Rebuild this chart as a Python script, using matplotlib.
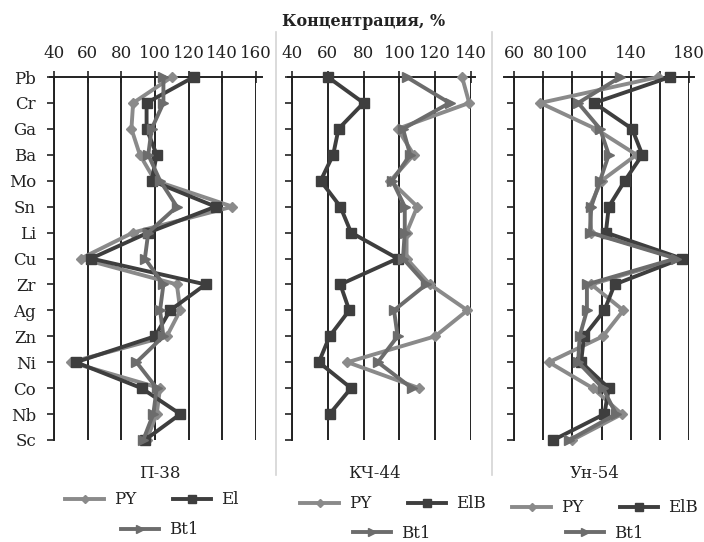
import numpy as np
import matplotlib
matplotlib.use("Agg")
import matplotlib.pyplot as plt
from matplotlib.lines import Line2D

plt.rcParams['font.family'] = ['DejaVu Serif']

elements = ["Pb", "Cr", "Ga", "Ba", "Mo", "Sn", "Li", "Cu", "Zr", "Ag", "Zn", "Ni", "Co", "Nb", "Sc"]
nan = np.nan

# Panel П-38
p38_PY  = [110, 87, 86, 91, 100, 146, 87, 56, 113, 115, 107, 50, 103, 101, 95]
p38_El  = [123, 95, 95, 101, 98, 136, 96, 62, 130, 109, 100, 53, 92, 115, 94]
p38_Bt1 = [105, 105, 98, 96, 103, 113, 96, 94, 105, 103, 105, 89, 101, 99, 93]

# Panel КЧ-44
k44_PY  = [135, 139, 99, 108, 95, 110, 104, 104, 117, 138, 120, 71, 111, nan, nan]
k44_ElB = [60, 80, 66, 63, 56, 67, 73, 99, 67, 72, 61, 55, 73, 61, nan]
k44_Bt1 = [104, 128, 102, 106, 96, 103, 103, 102, 115, 97, 99, 88, 107, nan, nan]

# Panel Ун-54
u54_PY  = [159, 78, 116, 144, 120, 112, 113, 173, 113, 135, 121, 84, 114, 134, 100]
u54_ElB = [167, 115, 141, 148, 136, 125, 123, 175, 129, 122, 108, 106, 125, 122, 87]
u54_Bt1 = [133, 104, 119, 125, 119, 113, 112, 171, 110, 110, 105, 104, 121, 130, 98]

panel_names = ["П-38", "КЧ-44", "Ун-54"]
title = "Концентрация, %"

W, H = 704, 542
fig = plt.figure(figsize=(W/100, H/100), dpi=100)

def rect(l, r, t, b):
    return [l/W, 1 - b/H, (r-l)/W, (b-t)/H]

c_PY, c_El, c_Bt = '#8a8a8a', '#3e3e3e', '#6c6c6c'
FS = 12

panels = [
    dict(rect=(54, 256, 77, 440), xlim=(40, 160), ticks=list(range(40, 161, 20)),
         labels=None, data=(p38_PY, p38_El, p38_Bt1), names=("PY", "El", "Bt1"),
         over=(-0.02, 1.03), showcats=True),
    dict(rect=(292, 471, 77, 440), xlim=(40, 140), ticks=list(range(40, 141, 20)),
         labels=None, data=(k44_PY, k44_ElB, k44_Bt1), names=("PY", "ElB", "Bt1"),
         over=(-0.022, 1.022), showcats=False),
    dict(rect=(514, 689, 77, 440), xlim=(60, 180), ticks=list(range(60, 181, 20)),
         labels=['60', '80', '100', '', '140', '', '180'],
         data=(u54_PY, u54_ElB, u54_Bt1), names=("PY", "ElB", "Bt1"),
         over=(-0.057, 1.03), showcats=False),
]

yy = np.arange(len(elements))
axes = []
for p in panels:
    ax = fig.add_axes(rect(*p['rect']))
    axes.append(ax)
    ax.set_xlim(*p['xlim'])
    ax.set_ylim(len(elements) - 1, 0)
    ax.xaxis.tick_top()
    ax.set_xticks(p['ticks'])
    if p['labels'] is not None:
        ax.set_xticklabels(p['labels'])
    ax.tick_params(axis='x', direction='inout', length=8, width=1.2, pad=7,
                   labelsize=FS, colors='#222222')
    ax.set_yticks(yy)
    ax.set_yticklabels(elements if p['showcats'] else [])
    ax.tick_params(axis='y', direction='out', length=5, width=1.2, pad=8,
                   labelsize=FS, colors='#222222')
    for s in ['right', 'bottom', 'top']:
        ax.spines[s].set_visible(False)
    ax.spines['left'].set_linewidth(1.4)
    ax.spines['left'].set_color('#222222')
    ax.grid(axis='x', color='#222222', linewidth=1.4)
    ax.set_axisbelow(True)
    ax.axhline(0, xmin=p['over'][0], xmax=p['over'][1], color='#222222',
               linewidth=1.4, clip_on=False, zorder=1)
    py, el, bt = p['data']
    n1, n2, n3 = p['names']
    l1, = ax.plot(py, yy, color=c_PY, lw=2.8, marker='D', ms=5, label=n1, clip_on=False, zorder=3)
    l2, = ax.plot(el, yy, color=c_El, lw=2.8, marker='s', ms=7, label=n2, clip_on=False, zorder=4)
    l3, = ax.plot(bt, yy, color=c_Bt, lw=2.8, marker='>', ms=7, label=n3, clip_on=False, zorder=5)
    p['handles'] = (l1, l2, l3)

fig.text(364/W, 1 - 22/H, title, ha='center', va='center', fontsize=11.5, fontweight='bold',
         color='#222222')

name_pos = [(160, 473), (374, 473), (595, 473)]
for nm, (x, y) in zip(panel_names, name_pos):
    fig.text(x/W, 1 - y/H, nm, ha='center', va='center', fontsize=FS, color='#222222')

for x in (276, 492):
    fig.add_artist(Line2D([x/W, x/W], [1 - 32/H, 1 - 475/H], color='#d4d4d4', lw=1.2))

leg_pos = [((152, 500), (160, 530)), ((393, 504), (392, 533)), ((605, 508), (605, 533))]
for p, (r1, r2) in zip(panels, leg_pos):
    l1, l2, l3 = p['handles']
    kw = dict(frameon=False, fontsize=FS, handlelength=2.3, handletextpad=0.6,
              columnspacing=2.2, borderaxespad=0, borderpad=0, labelcolor='#222222',
              markerscale=0.75)
    lg1 = fig.legend([l1, l2], [l1.get_label(), l2.get_label()], loc='center', ncol=2,
                     bbox_to_anchor=(r1[0]/W, 1 - r1[1]/H), **kw)
    lg2 = fig.legend([l3], [l3.get_label()], loc='center', ncol=1,
                     bbox_to_anchor=(r2[0]/W, 1 - r2[1]/H), **kw)

fig.savefig('out.png', dpi=100)
